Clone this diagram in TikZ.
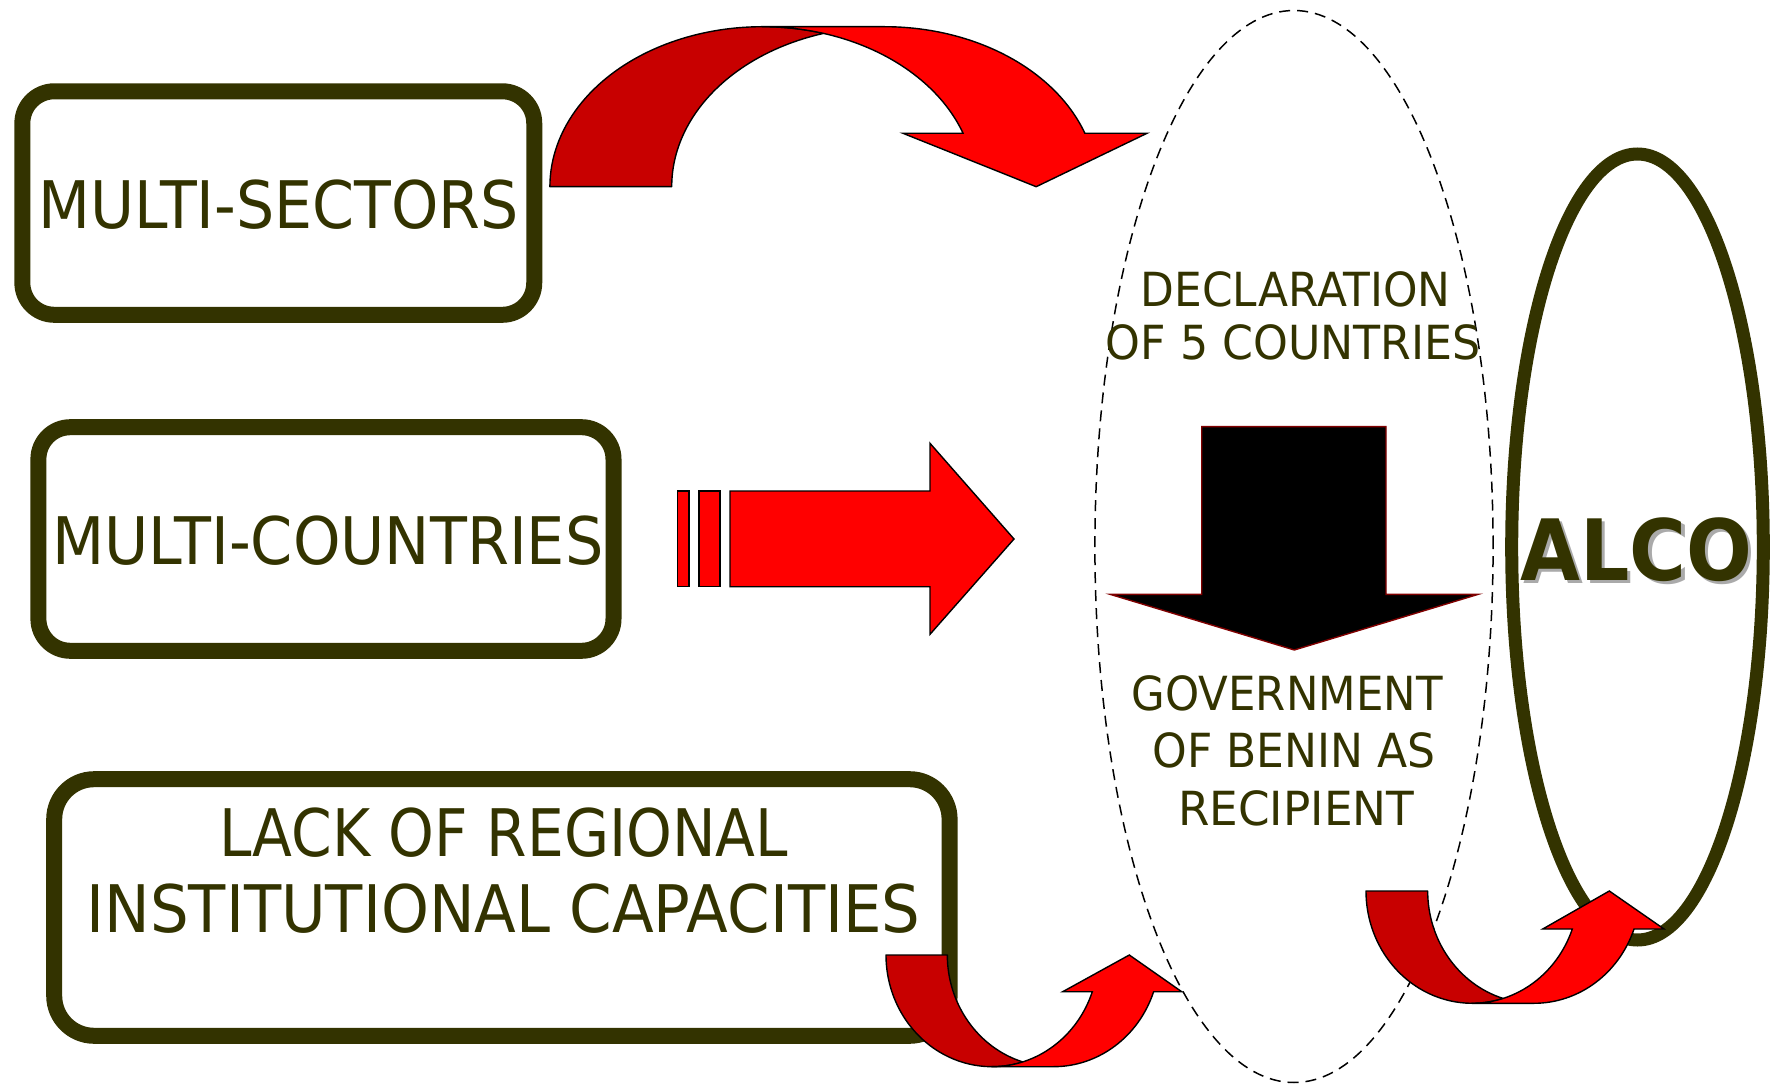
\documentclass[tikz,border=0pt]{standalone}
\usepackage{fontspec}
\usepackage{graphicx}
\setmainfont{DejaVu Sans}
\usetikzlibrary{shapes.geometric}
\definecolor{boxol}{HTML}{333300}
\definecolor{backred}{HTML}{C80000}
\definecolor{frontred}{HTML}{FF0000}
\definecolor{edgered}{HTML}{800000}
\definecolor{shadowgrey}{HTML}{AAAAAA}
\newcommand\fitw[2]{\resizebox{#1}{\height}{#2}}
\tikzset{
  boxstyle/.style={draw=boxol, line width=8pt, rounded corners=16pt, inner sep=0pt},
  bigtxt/.style={text=boxol, inner sep=0pt, anchor=base, font=\fontsize{32.8}{36}\selectfont},
  midtxt/.style={text=boxol, inner sep=0pt, anchor=base, font=\fontsize{23.5}{26}\selectfont},
  alcotxt/.style={inner sep=0pt, anchor=base, font=\fontsize{42.3}{46}\selectfont\bfseries},
  backband/.style={fill=backred, draw=black, line width=0.7pt, line join=round},
  frontband/.style={fill=frontred, draw=black, line width=0.7pt, line join=miter},
}
\begin{document}
\begin{tikzpicture}[x=0.5pt, y=0.5pt]
\useasboundingbox (0,0) rectangle (1779,1084);
\fill[white] (0,0) rectangle (1779,1084);

% boxes
\node[boxstyle, minimum width=255.95pt, minimum height=111.75pt] (b1) at (278.3,880.95) {};
\node[boxstyle, minimum width=287.55pt, minimum height=111.8pt] (b2) at (325.95,545) {};
\node[boxstyle, rounded corners=20pt, minimum width=447.7pt, minimum height=128.3pt] (b3) at (501.9,176.5) {};

% ALCO ellipse
\node[draw=boxol, line width=6.5pt, ellipse, inner sep=0pt, minimum width=125.8pt, minimum height=393pt] (alco) at (1637.5,537) {};

% dashed ellipse
\node[draw=black, line width=0.75pt, dash pattern=on 5.5pt off 3.5pt, ellipse, inner sep=0pt, minimum width=199.1pt, minimum height=536pt] (decl) at (1294,537.5) {};

% top curved arrow
\path[backband] (549.9,897.3) arc[start angle=180, end angle=73.36, x radius=212.7, y radius=160]
  arc[start angle=106.64, end angle=180, x radius=212.7, y radius=160] -- cycle;
\path[frontband] (762.6,1057.3) -- (884.4,1057.3) arc[start angle=90, end angle=19.5, x radius=212.7, y radius=160]
  -- (1147,950.7) -- (1036.2,897.3) -- (903,950.7) -- (963.1,950.7)
  arc[start angle=19.5, end angle=90, x radius=212.7, y radius=160] -- cycle;

% straight block arrow
\path[frontband] (677.7,497.3) rectangle (689,593);
\path[frontband] (699,497.3) rectangle (720,593);
\path[frontband] (730,497.3) -- (930,497.3) -- (930,449.7) -- (1014,545) -- (930,640.7) -- (930,593) -- (730,593) -- cycle;

% bottom-left curved arrow
\path[backband] (886,129) arc[start angle=180, end angle=286.8, x radius=106.1, y radius=111.7]
  arc[start angle=253.2, end angle=180, x radius=106.1, y radius=111.7] -- cycle;
\path[frontband] (992.1,17.3) -- (1053.4,17.3) arc[start angle=270, end angle=340.8, x radius=106.1, y radius=111.7]
  -- (1181.7,92.3) -- (1129.3,129) -- (1062.7,92.3) -- (1092.3,92.3)
  arc[start angle=340.8, end angle=270, x radius=106.1, y radius=111.7] -- cycle;

% bottom-right curved arrow
\path[backband] (1366,193) arc[start angle=180, end angle=286.87, x radius=106.3, y radius=112.3]
  arc[start angle=253.13, end angle=180, x radius=106.3, y radius=112.3] -- cycle;
\path[frontband] (1472.3,80.7) -- (1534,80.7) arc[start angle=270, end angle=340.2, x radius=106.3, y radius=112.3]
  -- (1664,155) -- (1609.3,193) -- (1542.7,155) -- (1572.3,155)
  arc[start angle=340.2, end angle=270, x radius=106.3, y radius=112.3] -- cycle;

% black down arrow
\path[fill=black, draw=edgered, line width=0.7pt] (1201.7,657.3) -- (1386,657.3) -- (1386,489.7) -- (1478.3,489.7)
  -- (1294.3,434) -- (1110,489.7) -- (1201.7,489.7) -- cycle;

% texts
\node[bigtxt] (t1) at (278.9,855.7) {\fitw{240pt}{MULTI-SECTORS}};
\node[bigtxt] (t2) at (327.9,519.7) {\fitw{275.5pt}{MULTI-COUNTRIES}};
\node[bigtxt] (t3a) at (503.5,227.3) {\fitw{284.5pt}{LACK OF REGIONAL}};
\node[bigtxt] (t3b) at (503.5,151.3) {\fitw{417pt}{INSTITUTIONAL CAPACITIES}};

\node[midtxt] (d1) at (1295.8,777.3) {\fitw{155pt}{DECLARATION}};
\node[midtxt] (d2) at (1293.3,724) {\fitw{187.5pt}{OF 5 COUNTRIES}};
\node[midtxt] (g1) at (1287,374) {\fitw{155.5pt}{GOVERNMENT}};
\node[midtxt] (g2) at (1294.2,316.7) {\fitw{141.5pt}{OF BENIN AS}};
\node[midtxt] (g3) at (1296.2,259) {\fitw{118pt}{RECIPIENT}};

\node[alcotxt, text=boxol] (alcotext) at (1636.5,504) {\fitw{116pt}{\makebox[0pt][l]{\raisebox{-1.8pt}[0pt][0pt]{\hspace{1.8pt}\textcolor{shadowgrey}{ALCO}}}ALCO}};
\end{tikzpicture}
\end{document}
